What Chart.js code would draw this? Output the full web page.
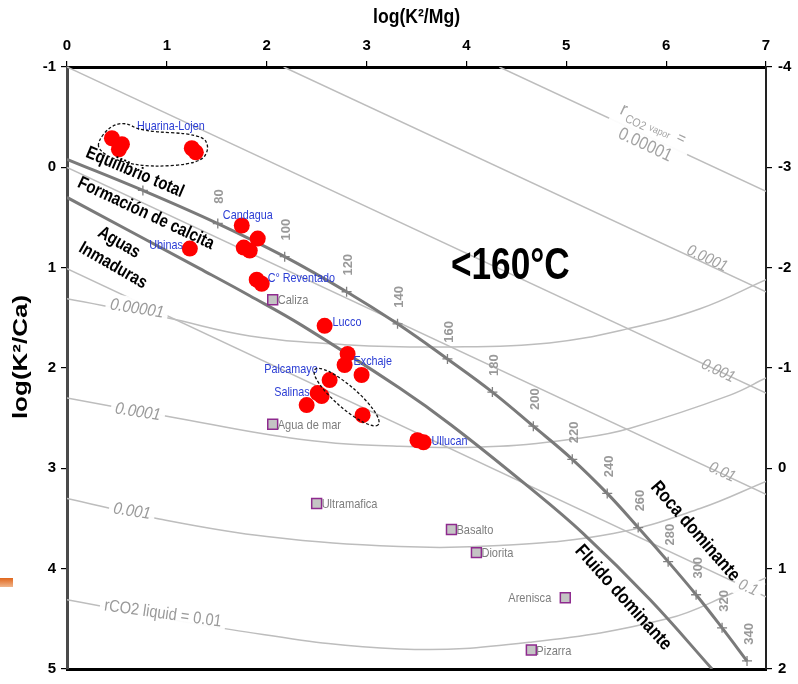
<!DOCTYPE html>
<html>
<head>
<meta charset="utf-8">
<title>K-Mg-Ca</title>
<script src="https://cdn.jsdelivr.net/npm/chart.js@4.4.0/dist/chart.umd.min.js"></script>
<style>
    html, body { margin: 0; padding: 0; background: #fff; }
    #wrap { width: 798px; height: 684px; }
</style>
</head>
<body>
<div id="wrap"><canvas id="kmgca" width="798" height="684"></canvas></div>
<script>
// Axis ticks
const kmgTicks = [0, 1, 2, 3, 4, 5, 6, 7];
const kcaTicks = [-1, 0, 1, 2, 3, 4, 5];
const rightTicks = [-4, -3, -2, -1, 0, 1, 2];

// Full equilibrium curve (rock dominated) with temperature marks
const eqTemps = [null, 60, 80, 100, 120, 140, 160, 180, 200, 220, 240, 260, 280, 300, 320, 340];
const eqX = [0, 0.76, 1.51, 2.18, 2.80, 3.31, 3.81, 4.26, 4.67, 5.06, 5.41, 5.72, 6.02, 6.30, 6.56, 6.81];
const eqY = [-0.08, 0.23, 0.56, 0.89, 1.24, 1.56, 1.91, 2.24, 2.58, 2.91, 3.25, 3.59, 3.93, 4.26, 4.59, 4.92];

// Calcite formation / fluid dominated curve
const calcX = [0, 1.33, 1.83, 2.36, 3.33, 3.85, 4.63, 5.17, 5.84, 6.46];
const calcY = [0.30, 1.01, 1.28, 1.58, 2.20, 2.57, 3.19, 3.65, 4.31, 5.00];

// rCO2 vapor lines (straight), start and end points
const vaporLevels = ['0.00001', '0.0001', '0.001', '0.01', '0.1'];
const vaporX0 = [4.33, 2.17, 0, 0, 0];
const vaporY0 = [-1, -1, -1, 0.00, 1.01];
const vaporX1 = [7, 7, 7, 7, 7];
const vaporY1 = [0.24, 1.24, 2.25, 3.26, 4.28];

// rCO2 liquid curves
const liq5X = [0, 1.0, 1.83, 2.83, 3.83, 4.83, 5.61, 6.34, 7.0];
const liq5Y = [1.31, 1.50, 1.68, 1.77, 1.79, 1.75, 1.61, 1.41, 1.12];
const liq4X = [0, 1.0, 2.33, 3.33, 4.33, 5.20, 5.64, 6.64, 7.0];
const liq4Y = [2.30, 2.48, 2.71, 2.78, 2.78, 2.69, 2.60, 2.27, 2.10];
const liq3X = [0, 0.90, 2.0, 3.33, 4.33, 5.47, 6.34, 7.0];
const liq3Y = [3.30, 3.50, 3.68, 3.78, 3.77, 3.65, 3.40, 3.13];
const liq2X = [0, 1.66, 3.33, 4.66, 6.01, 6.67, 7.0];
const liq2Y = [4.31, 4.61, 4.80, 4.73, 4.50, 4.24, 4.09];

// Water samples
const sampleX = [0.45, 0.55, 0.52, 1.25, 1.29, 1.75, 1.91, 1.77, 1.83, 1.23, 1.90, 1.95, 2.58, 2.81, 2.78, 2.95, 2.63, 2.51, 2.55, 2.40, 2.96, 3.51, 3.57];
const sampleY = [-0.29, -0.23, -0.18, -0.19, -0.15, 0.58, 0.71, 0.80, 0.83, 0.81, 1.12, 1.16, 1.58, 1.86, 1.97, 2.07, 2.12, 2.25, 2.28, 2.37, 2.47, 2.72, 2.74];

// Sample group names and where their names sit
const groupNames = ['Huarina-Lojen', 'Candagua', 'Ubinas', 'C° Reventado', 'Lucco', 'Exchaje', 'Palcamayo', 'Salinas', 'Ullucan'];
const groupLabelX = [1.04, 1.81, 1.16, 2.01, 2.66, 2.87, 2.51, 2.43, 3.65];
const groupLabelY = [-0.41, 0.48, 0.78, 1.11, 1.55, 1.93, 2.01, 2.24, 2.73];
const groupAlign = ['center', 'center', 'right', 'left', 'left', 'left', 'right', 'right', 'left'];

// Reference rocks and sea water
const rockNames = ['Caliza', 'Agua de mar', 'Ultramafica', 'Basalto', 'Diorita', 'Arenisca', 'Pizarra'];
const rockX = [2.06, 2.06, 2.50, 3.85, 4.10, 4.99, 4.65];
const rockY = [1.32, 2.56, 3.35, 3.61, 3.84, 4.29, 4.81];

// Dashed outlines around sample groups
const huarinaX = [0.31, 0.43, 0.59, 0.74, 1.35, 1.43, 1.33, 0.83, 0.48, 0.32];
const huarinaY = [-0.26, -0.41, -0.45, -0.36, -0.33, -0.19, -0.04, 0.00, -0.07, -0.17];
const palcaCenter = [2.80, 2.29];

const FONT = "'Liberation Sans', Arial, sans-serif";
const thinGray = '#bdbdbd';
const thickGray = '#7a7a7a';

function pts(xs, ys) {
    return xs.map((x, i) => ({ x: x, y: ys[i] }));
}

function curve(xs, ys, extra) {
    return Object.assign({
        data: pts(xs, ys),
        showLine: true,
        borderColor: thinGray,
        borderWidth: 1.5,
        pointRadius: 0,
        tension: 0.4,
        order: 4
    }, extra || {});
}

const datasets = [
    {
        data: pts(sampleX, sampleY),
        pointRadius: 8,
        pointBackgroundColor: '#ff0000',
        pointBorderWidth: 0,
        order: 0
    },
    {
        data: pts(rockX, rockY),
        pointStyle: 'rect',
        pointRadius: 7,
        pointBackgroundColor: '#c4c4c4',
        pointBorderColor: '#8e2a8e',
        pointBorderWidth: 1.5,
        order: 1
    },
    curve(eqX, eqY, {
        borderColor: thickGray,
        borderWidth: 3,
        pointStyle: 'cross',
        pointRadius: eqTemps.map(t => t === null ? 0 : 5),
        pointBorderColor: '#808080',
        pointBorderWidth: 1.3,
        order: 2
    }),
    curve(calcX, calcY, { borderColor: thickGray, borderWidth: 3, order: 3 }),
    curve(liq5X, liq5Y),
    curve(liq4X, liq4Y),
    curve(liq3X, liq3Y),
    curve(liq2X, liq2Y)
];
vaporLevels.forEach((lvl, i) => {
    datasets.push(curve([vaporX0[i], vaporX1[i]], [vaporY0[i], vaporY1[i]], { tension: 0 }));
});

// Text helper: anchor in pixels, optional rotation and horizontal squeeze
function text(ctx, str, x, y, o) {
    ctx.save();
    ctx.translate(x, y);
    if (o.angle) ctx.rotate(o.angle * Math.PI / 180);
    ctx.scale(o.sx || 1, o.sy || 1);
    ctx.font = o.font;
    ctx.textAlign = o.align || 'center';
    ctx.textBaseline = 'middle';
    if (o.box) {
        const w = ctx.measureText(str).width;
        const left = o.align === 'left' ? 0 : (o.align === 'right' ? -w : -w / 2);
        ctx.fillStyle = 'rgba(255,255,255,0.95)';
        ctx.fillRect(left - 5, -11, w + 10, 22);
    }
    ctx.fillStyle = o.color || '#000';
    ctx.fillText(str, 0, 0);
    ctx.restore();
}

const overlay = {
    id: 'overlay',
    afterDatasetsDraw(chart) {
        const ctx = chart.ctx;
        const xs = chart.scales.x, ys = chart.scales.y;
        const px = v => xs.getPixelForValue(v);
        const py = v => ys.getPixelForValue(v);

        // temperature labels along the equilibrium curve
        eqTemps.forEach((t, i) => {
            if (t === null || t === 60) return;
            text(ctx, String(t), px(eqX[i]) + 2, py(eqY[i]) - 27,
                { angle: -90, font: 'bold 13px ' + FONT, color: '#999999' });
        });

        // rCO2 vapor labels
        const vGray = '#a3a3a3';
        text(ctx, '0.0001', px(6.41), py(0.91), { angle: 25, font: 'italic 16px ' + FONT, color: vGray, sx: 0.88 });
        text(ctx, '0.001', px(6.52), py(2.03), { angle: 25, font: 'italic 16px ' + FONT, color: vGray, sx: 0.88 });
        text(ctx, '0.01', px(6.56), py(3.04), { angle: 25, font: 'italic 16px ' + FONT, color: vGray, sx: 0.88 });
        text(ctx, '0.1', px(6.82), py(4.19), { angle: 25, font: 'italic 16px ' + FONT, color: vGray, sx: 0.88, box: true });

        // compound label on the 0.00001 vapor line
        ctx.save();
        ctx.translate(px(5.84), py(-0.33));
        ctx.rotate(25 * Math.PI / 180);
        ctx.fillStyle = 'rgba(255,255,255,0.95)';
        ctx.fillRect(-44, -24, 86, 48);
        ctx.scale(0.88, 1);
        ctx.fillStyle = vGray;
        ctx.textBaseline = 'middle';
        ctx.textAlign = 'left';
        ctx.font = '19px ' + FONT;
        ctx.fillText('r', -42, -11);
        ctx.font = '12px ' + FONT;
        ctx.fillText('CO2', -33, -4);
        ctx.font = '10px ' + FONT;
        ctx.fillText('vapor', -4, -6);
        ctx.textAlign = 'center';
        ctx.font = '16px ' + FONT;
        ctx.fillText('=', 34, -9);
        ctx.font = '18px ' + FONT;
        ctx.fillText('0.00001', 0, 12);
        ctx.restore();

        // rCO2 liquid labels
        const lGray = '#9a9a9a';
        text(ctx, '0.00001', px(0.70), py(1.41), { angle: 9, font: 'italic 17px ' + FONT, color: lGray, sx: 0.88, box: true });
        text(ctx, '0.0001', px(0.71), py(2.44), { angle: 9, font: 'italic 17px ' + FONT, color: lGray, sx: 0.88, box: true });
        text(ctx, '0.001', px(0.65), py(3.43), { angle: 9, font: 'italic 17px ' + FONT, color: lGray, sx: 0.88, box: true });
        text(ctx, 'rCO2 liquid = 0.01', px(0.96), py(4.45), { angle: 8, font: '17px ' + FONT, color: lGray, sx: 0.86, box: true });

        // region / curve names
        const bold = 'bold 18px ' + FONT;
        text(ctx, 'Equilibrio total', px(0.68), py(0.05), { angle: 23, font: bold, sx: 0.83 });
        text(ctx, 'Formación de calcita', px(0.79), py(0.46), { angle: 25, font: bold, sx: 0.83 });
        text(ctx, 'Aguas', px(0.52), py(0.75), { angle: 30, font: bold, sx: 0.83 });
        text(ctx, 'Inmaduras', px(0.46), py(0.98), { angle: 30, font: bold, sx: 0.83 });
        text(ctx, 'Roca dominante', px(6.29), py(3.63), { angle: 49, font: 'bold 19px ' + FONT, sx: 0.85 });
        text(ctx, 'Fluido dominante', px(5.57), py(4.29), { angle: 48, font: 'bold 19px ' + FONT, sx: 0.85 });
        text(ctx, '<160°C', px(4.44), py(0.99), { font: 'bold 44px ' + FONT, sx: 0.8 });

        // rock labels
        rockNames.forEach((n, i) => {
            const left = n !== 'Arenisca';
            text(ctx, n, px(rockX[i]) + (left ? 5 : -14), py(rockY[i]) + 1,
                { align: left ? 'left' : 'right', font: '13px ' + FONT, color: '#7d7d7d', sx: 0.85 });
        });

        // sample group labels
        groupNames.forEach((n, i) => {
            text(ctx, n, px(groupLabelX[i]), py(groupLabelY[i]),
                { align: groupAlign[i], font: '13px ' + FONT, color: '#2b3dd4', sx: 0.83 });
        });

        // dashed outlines
        ctx.save();
        ctx.strokeStyle = '#111';
        ctx.lineWidth = 1.3;
        ctx.setLineDash([3, 2]);
        const p = huarinaX.map((x, i) => [px(x), py(huarinaY[i])]);
        const n = p.length;
        const mid = (a, b) => [(a[0] + b[0]) / 2, (a[1] + b[1]) / 2];
        let m = mid(p[n - 1], p[0]);
        ctx.beginPath();
        ctx.moveTo(m[0], m[1]);
        for (let i = 0; i < n; i++) {
            const q = mid(p[i], p[(i + 1) % n]);
            ctx.quadraticCurveTo(p[i][0], p[i][1], q[0], q[1]);
        }
        ctx.closePath();
        ctx.stroke();

        ctx.beginPath();
        ctx.ellipse(px(palcaCenter[0]), py(palcaCenter[1]), 42, 11, 41 * Math.PI / 180, 0, Math.PI * 2);
        ctx.stroke();
        ctx.restore();
    },
    afterDraw(chart) {
        const ctx = chart.ctx;
        const a = chart.chartArea;
        text(ctx, 'log(K²/Mg)', (a.left + a.right) / 2, 17, { font: 'bold 20px ' + FONT, sx: 0.88 });
        text(ctx, 'log(K²/Ca)', 21, 357, { angle: -90, font: 'bold 20px ' + FONT, sx: 1.3 });

        // small orange mark at the left edge
        const g = ctx.createLinearGradient(0, 578, 0, 590);
        g.addColorStop(0, '#e0661c');
        g.addColorStop(1, '#f6d0b0');
        ctx.fillStyle = g;
        ctx.fillRect(0, 578, 13, 9);
    }
};

const tickFont = { family: FONT, size: 15, weight: 'bold' };

new Chart(document.getElementById('kmgca'), {
    type: 'scatter',
    data: { datasets: datasets },
    options: {
        responsive: false,
        animation: false,
        layout: { padding: 0 },
        plugins: {
            legend: { display: false },
            tooltip: { enabled: false }
        },
        scales: {
            x: {
                type: 'linear', position: 'top', min: 0, max: 7, display: true,
                afterBuildTicks: s => { s.ticks = kmgTicks.map(v => ({ value: v })); },
                ticks: { autoSkip: false, font: tickFont, color: '#000', padding: 6, maxRotation: 0 },
                grid: { drawOnChartArea: false, tickLength: 6, color: '#000', lineWidth: 1.2 },
                border: { color: '#000', width: 3 },
                afterFit: s => { s.height = 67; }
            },
            xb: {
                type: 'linear', position: 'bottom', min: 0, max: 7, display: true,
                ticks: { display: false },
                grid: { display: false, drawTicks: false },
                border: { color: '#000', width: 3 },
                afterFit: s => { s.height = 7; }
            },
            y: {
                type: 'linear', position: 'left', reverse: true, min: -1, max: 5, display: true,
                afterBuildTicks: s => { s.ticks = kcaTicks.map(v => ({ value: v })); },
                ticks: { autoSkip: false, font: tickFont, color: '#000', padding: 5 },
                grid: { drawOnChartArea: false, tickLength: 6, color: '#000', lineWidth: 1.2 },
                border: { color: '#4a4a4a', width: 3 },
                afterFit: s => { s.width = 67; }
            },
            y2: {
                type: 'linear', position: 'right', reverse: true, min: -4, max: 2, display: true,
                afterBuildTicks: s => { s.ticks = rightTicks.map(v => ({ value: v })); },
                ticks: { autoSkip: false, font: tickFont, color: '#000', padding: 6 },
                grid: { drawOnChartArea: false, tickLength: 6, color: '#000', lineWidth: 1.2 },
                border: { color: '#222', width: 2 },
                afterFit: s => { s.width = 32; }
            }
        }
    },
    plugins: [overlay]
});
</script>
</body>
</html>
